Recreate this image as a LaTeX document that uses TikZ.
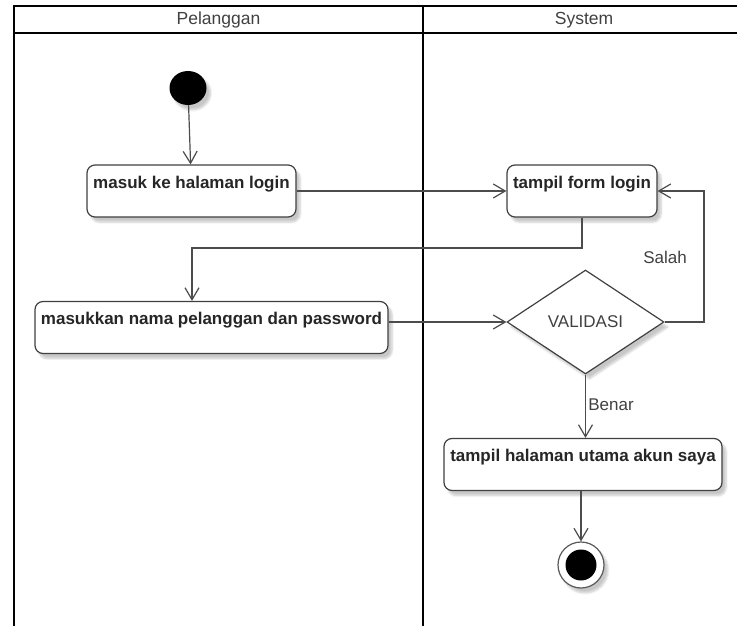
\documentclass[tikz,border=0pt]{standalone}
\usepackage{fontspec}
\setmainfont{Liberation Sans}
\usetikzlibrary{arrows.meta,shapes.geometric,shadows.blur}
\begin{document}
\begin{tikzpicture}[x=1pt,y=-1pt,
  lane/.style={line width=2pt,black},
  softshadow/.style={blur shadow={shadow xshift=4pt,shadow yshift=-5pt,shadow blur steps=6,shadow opacity=22}},
  act/.style={draw=black!75, line width=1.2pt, rounded corners=8pt, fill=white,
    font=\fontsize{17}{19}\selectfont\bfseries, text=black!85,
    text height=20pt, text depth=26pt, inner ysep=3pt, inner xsep=0pt, softshadow},
  decision/.style={diamond, draw=black!75, line width=1.2pt, fill=white,
    minimum width=157pt, minimum height=104pt, inner sep=0pt,
    font=\fontsize{17}{19}\selectfont, text=black!75, softshadow},
  flow/.style={draw=black!70, line width=1.2pt, -{Straight Barb[length=12pt,width=14pt]}},
  lbl/.style={text=black!75, font=\fontsize{17}{19}\selectfont},
  head/.style={text=black!75, font=\fontsize{17.5}{19}\selectfont},
]
\useasboundingbox (0,0) rectangle (737,626);

% swimlane frame
\draw[lane] (14,626) -- (14,6) -- (737,6);
\draw[lane] (14,33) -- (737,33);
\draw[lane] (423,6) -- (423,626);
\node[head] (laneA) at (218.5,20) {Pelanggan};
\node[head] (laneB) at (584,20) {System};

% initial and final states
\node[ellipse, fill=black, minimum width=37pt, minimum height=34pt, inner sep=0pt, softshadow] (start) at (188,88) {};
\node[circle, draw=black!65, line width=1.2pt, fill=white, minimum size=46pt, inner sep=0pt, softshadow] (end) at (581,565) {};
\node[circle, fill=black, minimum size=31pt, inner sep=0pt] (endcore) at (end) {};

% activities
\node[act, minimum width=209pt] (login) at (191.5,191) {masuk ke halaman login};
\node[act, minimum width=150pt] (form) at (582,191) {tampil form login};
\node[act, minimum width=353pt] (input) at (211.5,327.5) {masukkan nama pelanggan dan password};
\node[decision] (valid) at (585.5,322) {\raisebox{-7pt}{VALIDASI}};
\node[act, minimum width=278pt] (home) at (583,464.5) {tampil halaman utama akun saya};

% routing points
\coordinate (bend) at (192,248);
\coordinate (ret) at (704,191);

% transitions
\draw[flow] (start) -- (login);
\draw[flow] (login.east) -- (form.west);
\draw[flow] (form.south) |- (bend) -- (bend |- input.north);
\draw[flow] (valid.west -| input.east) -- (valid.west);
\draw[flow] (valid.east) -| (ret) -- (form.east);
\draw[flow] (valid.south) -- (valid.south |- home.north);
\draw[flow] (home.south -| end) -- (end.north);

% guards
\node[lbl] (salah) at (665,257) {Salah};
\node[lbl] (benar) at (611,405) {Benar};
\end{tikzpicture}
\end{document}
